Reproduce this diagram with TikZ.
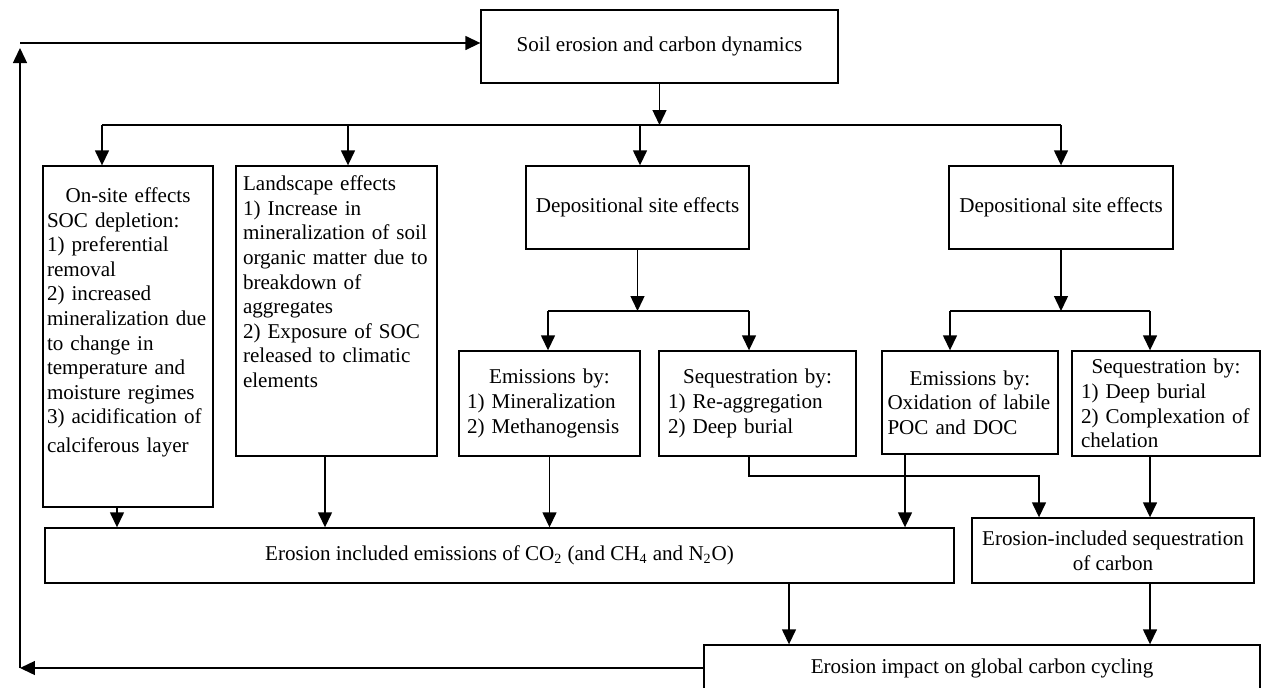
\documentclass[tikz,border=0pt]{standalone}
\usepackage{fontspec}
\setmainfont{Liberation Serif}
\usepackage{tikz}
\usetikzlibrary{arrows.meta, positioning}

\begin{document}
\begin{tikzpicture}[
    x=0.02cm, y=-0.02cm,
    box/.style={rectangle, draw, thick, align=center, inner sep=0pt, font=\fontsize{12}{14}\selectfont},
    listbox/.style={box, align=left},
    arrow/.style={thick,-{Triangle[length=0.3cm,width=0.28cm]}},
    link/.style={thick}
  ]
  \useasboundingbox (0,0) rectangle (1261,687);
  \clip (0,0) rectangle (1261,687);

  \node (soil) [box, minimum width=7.14cm, minimum height=1.46cm] at (659.5,46.5) {Soil erosion and carbon dynamics};
  \node (onsite) [listbox, text width=3.24cm, inner xsep=0.08cm, minimum width=3.4cm, minimum height=6.82cm] at (128,336.5)
    {\makebox[\linewidth]{On-site effects}\\ SOC depletion:\\ 1) preferential\\ removal\\ 2) increased\\ mineralization due\\ to change in\\ temperature and\\ moisture regimes\\ 3) acidification of\\[2.5pt] calciferous layer\rule[-0.65cm]{0pt}{0pt}};
  \node (landscape) [listbox, text width=3.74cm, inner xsep=0.14cm, minimum width=4.02cm, minimum height=5.8cm] at (336.5,311)
    {Landscape effects\\ 1) Increase in\\ mineralization of soil\\ organic matter due to\\ breakdown of\\ aggregates\\ 2) Exposure of SOC\\ released to climatic\\ elements\rule[-1.17cm]{0pt}{0pt}};
  \node (dep1) [box, minimum width=4.46cm, minimum height=1.66cm] at (637.5,207.5) {Depositional site effects};
  \node (dep2) [box, minimum width=4.48cm, minimum height=1.66cm] at (1061,207.5) {Depositional site effects};
  \node (emis1) [listbox, text width=3.3cm, inner xsep=0.16cm, minimum width=3.62cm, minimum height=2.1cm] at (549.5,403.5)
    {\makebox[\linewidth]{Emissions by:}\\ 1) Mineralization\\ 2) Methanogensis};
  \node (seq1) [listbox, text width=3.58cm, inner xsep=0.18cm, minimum width=3.94cm, minimum height=2.1cm] at (757.5,403.5)
    {\makebox[\linewidth]{Sequestration by:}\\ 1) Re-aggregation\\ 2) Deep burial};
  \node (oxid) [listbox, text width=3.3cm, inner xsep=0.11cm, minimum width=3.52cm, minimum height=2.06cm] at (970,402.5)
    {\makebox[\linewidth]{Emissions by:}\\ Oxidation of labile\\ POC and DOC};
  \node (seq2) [listbox, text width=3.4cm, inner xsep=0.18cm, minimum width=3.76cm, minimum height=2.1cm] at (1166,403.5)
    {\makebox[\linewidth]{Sequestration by:}\\ 1) Deep burial\\ 2) Complexation of\\ chelation};
  \node (emisall) [box, minimum width=18.18cm, minimum height=1.1cm] at (499.5,555.5)
    {Erosion included emissions of CO\textsubscript{2} (and CH\textsubscript{4} and N\textsubscript{2}O)};
  \node (seqres) [box, minimum width=5.64cm, minimum height=1.3cm] at (1113,550.5)
    {Erosion-included sequestration\\ of carbon};
  \node (global) [box, minimum width=11.12cm, minimum height=0.92cm] at (982,668) {Erosion impact on global carbon cycling};

  \coordinate (busa) at (102,125);
  \coordinate (busb) at (348,125);
  \coordinate (busc) at (640,125);
  \coordinate (subl) at (548,311);
  \coordinate (subr) at (749,311);
  \coordinate (subxl) at (950,311);
  \coordinate (subxr) at (1150,311);
  \coordinate (dropa) at (117,0);
  \coordinate (dropb) at (325,0);
  \coordinate (dropd) at (905,0);
  \coordinate (drope) at (789,0);
  \coordinate (jog) at (1039,476);
  \coordinate (loopt) at (20,43);

  \draw [arrow] (soil.south) -- (soil.south |- busa);
  \draw [link] (busa) -- (dep2.north |- busa);
  \draw [arrow] (busa) -- (busa |- onsite.north);
  \draw [arrow] (busb) -- (busb |- landscape.north);
  \draw [arrow] (busc) -- (busc |- dep1.north);
  \draw [arrow] (dep2.north |- busa) -- (dep2.north);

  \draw [arrow] (dep1.south) -- (dep1.south |- subl);
  \draw [link] (subl) -- (subr);
  \draw [arrow] (subl) -- (subl |- emis1.north);
  \draw [arrow] (subr) -- (subr |- seq1.north);
  \draw [arrow] (dep2.south) -- (dep2.south |- subxl);
  \draw [link] (subxl) -- (subxr);
  \draw [arrow] (subxl) -- (subxl |- oxid.north);
  \draw [arrow] (subxr) -- (subxr |- seq2.north);

  \draw [arrow] (dropa |- onsite.south) -- (dropa |- emisall.north);
  \draw [arrow] (dropb |- landscape.south) -- (dropb |- emisall.north);
  \draw [arrow] (emis1.south) -- (emis1.south |- emisall.north);
  \draw [arrow] (subr |- seq1.south) |- (jog) -- (jog |- seqres.north);
  \draw [arrow] (dropd |- oxid.south) -- (dropd |- emisall.north);
  \draw [arrow] (subxr |- seq2.south) -- (subxr |- seqres.north);

  \draw [arrow] (drope |- emisall.south) -- (drope |- global.north);
  \draw [arrow] (subxr |- seqres.south) -- (subxr |- global.north);

  \draw [arrow] (global.west) -- (global.west -| loopt);
  \draw [arrow, shorten >=0.1cm] (global.west -| loopt) -- (loopt);
  \draw [arrow] (loopt) -- (loopt -| soil.west);
\end{tikzpicture}
\end{document}
